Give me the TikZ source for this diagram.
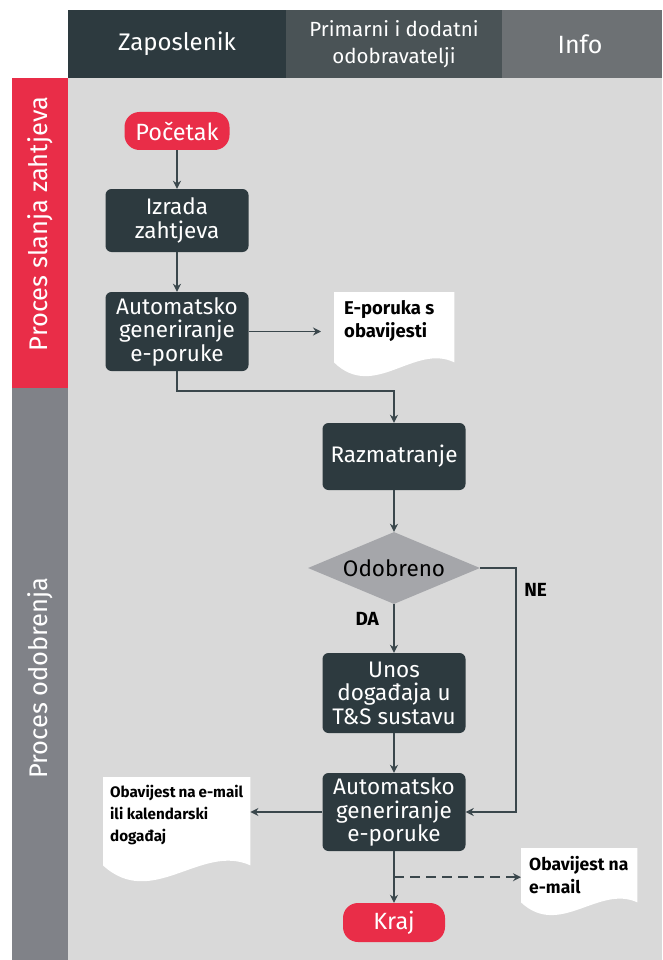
\documentclass[tikz,border=0pt]{standalone}
\usepackage{fontspec}
\setmainfont{Fira Sans}
\usetikzlibrary{arrows.meta,shapes.geometric,calc,backgrounds}
\definecolor{bgmain}{HTML}{D9D9D9}
\definecolor{hdA}{HTML}{2D3A3F}
\definecolor{hdB}{HTML}{4A5356}
\definecolor{hdC}{HTML}{6D7174}
\definecolor{redc}{HTML}{E92D48}
\definecolor{grayside}{HTML}{808288}
\definecolor{boxc}{HTML}{2D3A3F}
\definecolor{diac}{HTML}{A5A6AA}
\definecolor{linec}{HTML}{3A474C}
\newcommand{\docfill}[2]{%
  \fill[white] let \p1=(#1.north west), \p2=(#1.south east), \n1={\x2-\x1} in
    (\x1,\y1) -- (\x2,\y1) -- (\x2,\y2+#2)
    .. controls (\x2-\n1/3,\y2+#2+1.5*#2) and (\x1+\n1/3,\y2+#2-3*#2) ..
    (\x1,\y2+#2) -- cycle;}
\begin{document}
\begin{tikzpicture}[x=1pt,y=-1pt,
  hdtext/.style={text=white,font=\fontsize{24}{27}\selectfont,align=center},
  sidetext/.style={text=white,font=\fontsize{25.5}{27}\selectfont,rotate=90},
  procbox/.style={fill=boxc,rounded corners=6pt,text=white,align=center,
    font=\fontsize{22.5}{23.5}\selectfont,minimum width=143pt,inner sep=1pt},
  termbox/.style={fill=redc,rounded corners=15pt,text=white,
    font=\fontsize{23.5}{24}\selectfont,inner sep=1pt},
  decbox/.style={diamond,fill=diac,text=black,font=\fontsize{22.5}{24}\selectfont,
    minimum width=172pt,minimum height=72pt,inner sep=0pt,aspect=2.4},
  docbox/.style={anchor=north west,inner xsep=10pt,inner ysep=8pt,align=left,
    text=black},
  arr/.style={draw=linec,line width=1.5pt,-{Stealth[length=8pt,width=8pt]}},
  lbl/.style={font=\fontsize{19}{20}\selectfont\bfseries,text=black}]
\useasboundingbox (0,0) rectangle (662,960);
\begin{pgfonlayer}{background}
\fill[white] (0,0) rectangle (662,960);
\fill[bgmain] (68,78) rectangle (662,960);
\fill[hdA] (68,10) rectangle (286,78);
\fill[hdB] (286,10) rectangle (502,78);
\fill[hdC] (502,10) rectangle (662,78);
\fill[redc] (12,78) rectangle (68,388);
\fill[grayside] (12,388) rectangle (68,960);
\end{pgfonlayer}

\node[hdtext] (h1) at (177,44) {Zaposlenik};
\node[hdtext,font=\fontsize{20.5}{27}\selectfont] (h2) at (394,44) {Primarni i dodatni\\odobravatelji};
\node[hdtext,font=\fontsize{25}{27}\selectfont] (h3) at (580,44) {Info};
\node[sidetext] (s1) at (40,224) {Proces slanja zahtjeva};
\node[sidetext] (s2) at (40,678) {Proces odobrenja};

\node[termbox,minimum width=105pt,minimum height=38pt] (start) at (177,131) {Početak};
\node[procbox,minimum height=63pt] (izrada) at (177,220.5) {Izrada\\zahtjeva};
\node[procbox,minimum height=79pt] (auto1) at (177,331.5) {Automatsko\\generiranje\\e-poruke};
\node[procbox,minimum height=67pt] (razm) at (394,456.5) {Razmatranje};
\node[decbox] (dec) at (394,568) {Odobreno};
\node[procbox,minimum height=80pt] (unos) at (394,693) {Unos\\događaja u\\T\&S sustavu};
\node[procbox,minimum height=78pt] (auto2) at (394,812) {Automatsko\\generiranje\\e-poruke};
\node[termbox,minimum width=102pt,minimum height=39pt] (kraj) at (394,922.5) {Kraj};

\node[docbox,font=\fontsize{18.5}{23}\selectfont\bfseries] (doc1) at (334,292)
  {\parbox[t][67pt][t]{100pt}{E-poruka s\\obavijesti}};
\node[docbox,font=\fontsize{15.2}{22}\selectfont\bfseries,inner xsep=7pt] (doc2) at (103,777)
  {\parbox[t][87pt][t]{133pt}{Obavijest na e-mail\\ili kalendarski\\događaj}};
\node[docbox,font=\fontsize{17.5}{23}\selectfont\bfseries,inner xsep=8pt] (doc3) at (521,848)
  {\parbox[t][50pt][t]{100pt}{\mbox{Obavijest na}\\\mbox{e-mail}}};
\begin{pgfonlayer}{background}
\docfill{doc1}{13pt}
\docfill{doc2}{15pt}
\docfill{doc3}{12pt}
\end{pgfonlayer}

\draw[arr] (start) -- (izrada);
\draw[arr] (izrada) -- (auto1);
\draw[arr,shorten >=13pt] (auto1.east) -- (auto1.east -| doc1.west);
\draw[arr] (auto1.south) -- ++(0,20) -| (razm.north);
\draw[arr] (razm) -- (dec);
\draw[arr] (dec) -- node[lbl,left=11pt,pos=0.3] (da) {DA} (unos);
\draw[arr] (dec.east) -- ++(36,0) |- node[lbl,right=4pt,pos=0.045] (ne) {NE} (auto2.east);
\draw[arr] (unos) -- (auto2);
\draw[arr] (auto2.west) -- (auto2.west -| doc2.east);
\draw[arr] (auto2) -- (kraj);
\coordinate (branch) at ($(auto2.south)+(0,26)$);
\draw[arr,dash pattern=on 10pt off 6pt] (branch) -- (branch -| doc3.west);
\end{tikzpicture}
\end{document}
